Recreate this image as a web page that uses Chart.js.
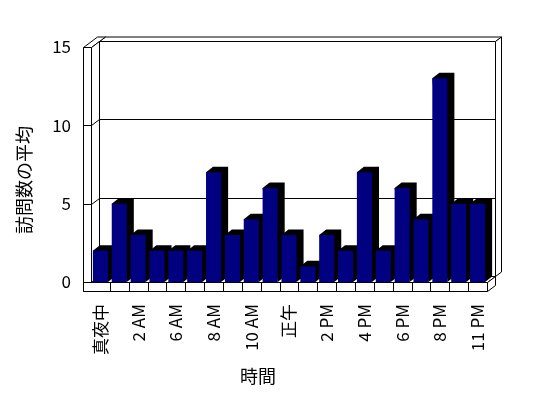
<!DOCTYPE html>
<html>
<head>
<meta charset="utf-8">
<script src="https://cdn.jsdelivr.net/npm/chart.js@4"></script>
<style>
  html, body { margin: 0; padding: 0; background: #fff; }
  canvas { display: block; }
</style>
</head>
<body>
<canvas id="c" width="548" height="398"></canvas>
<script>
const hours = ['真夜中', '1 AM', '2 AM', '5 AM', '6 AM', '7 AM', '8 AM', '9 AM', '10 AM', '11 AM', '正午',
  '1 PM', '2 PM', '3 PM', '4 PM', '5 PM', '6 PM', '7 PM', '8 PM', '9 PM', '11 PM']
const visits = [2, 5, 3, 2, 2, 2, 7, 3, 4, 6, 3, 1, 3, 2, 7, 2, 6, 4, 13, 5, 5]
const yTicks = [0, 5, 10, 15]

const FONT = "'Noto Sans CJK JP', 'Noto Sans', sans-serif"
const DX = 8, DY = -6        // depth of the box
const BDX = 7, BDY = -5.5    // depth of each column

function poly(ctx, pts, fill) {
  ctx.beginPath()
  ctx.moveTo(pts[0][0], pts[0][1])
  for (let i = 1; i < pts.length; i++) ctx.lineTo(pts[i][0], pts[i][1])
  ctx.closePath()
  if (fill) { ctx.fillStyle = fill; ctx.fill() }
  ctx.stroke()
}

// walls, floor, grid and the dark sides of the columns
const box3d = {
  id: 'box3d',
  beforeDatasetsDraw(chart) {
    const { ctx, chartArea: a, scales } = chart
    const ys = scales.y
    const L = a.left + 0.5, R = a.right + 0.5, T = a.top + 0.5, B = a.bottom + 0.5
    const W = 8, FH = 9
    ctx.save()
    ctx.strokeStyle = '#000'
    ctx.lineWidth = 1
    // back wall slab (front face at depth 1, back at 1.75)
    poly(ctx, [[L + DX, T + DY], [R + DX, T + DY], [R + DX, B + DY], [L + DX, B + DY]], '#fff')
    poly(ctx, [[L + DX, T + DY], [R + DX, T + DY], [R + DX * 1.75, T + DY * 1.75], [L + DX * 1.75, T + DY * 1.75]], '#fff')
    poly(ctx, [[R + DX, T + DY], [R + DX * 1.75, T + DY * 1.75], [R + DX * 1.75, B + DY * 1.75], [R + DX, B + DY]], '#fff')
    // left wall slab
    poly(ctx, [[L - W, T], [L, T], [L + DX * 1.75, T + DY * 1.75], [L - W + DX * 1.75, T + DY * 1.75]], '#fff')
    poly(ctx, [[L - W, T], [L, T], [L, B + FH], [L - W, B + FH]], '#fff')
    poly(ctx, [[L, T], [L + DX, T + DY], [L + DX, B + DY], [L, B]], '#fff')
    // floor slab
    poly(ctx, [[L, B], [R, B], [R + DX, B + DY], [L + DX, B + DY]], '#fff')
    poly(ctx, [[L - W, B], [R, B], [R, B + FH], [L - W, B + FH]], '#fff')
    poly(ctx, [[R, B], [R + DX, B + DY], [R + DX, B + DY + FH], [R, B + FH]], '#fff')
    const pitch = (a.right - a.left) / hours.length
    ctx.beginPath()
    for (let i = 1; i < hours.length; i++) {
      const x = Math.round(a.left + i * pitch) + 0.5
      ctx.moveTo(x, B); ctx.lineTo(x, B + FH)
    }
    ctx.stroke()
    // grid lines on the back and left walls
    ctx.beginPath()
    yTicks.slice(1, -1).forEach(v => {
      const y = Math.round(ys.getPixelForValue(v)) + 0.5
      ctx.moveTo(L - W, y); ctx.lineTo(L, y)
      ctx.lineTo(L + DX, y + DY); ctx.lineTo(R + DX, y + DY)
    })
    ctx.stroke()
    // column sides and tops
    ctx.fillStyle = '#000'
    chart.getDatasetMeta(0).data.forEach(bar => {
      const l = bar.x - bar.width / 2, r = bar.x + bar.width / 2
      ctx.beginPath()
      ctx.moveTo(l, bar.y)
      ctx.lineTo(l + BDX, bar.y + BDY)
      ctx.lineTo(r + BDX, bar.y + BDY)
      ctx.lineTo(r + BDX, bar.base + BDY)
      ctx.lineTo(r, bar.base)
      ctx.closePath()
      ctx.fill()
    })
    ctx.restore()
  },
  afterDraw(chart) {
    const { ctx } = chart
    ctx.save()
    ctx.fillStyle = '#000'
    ctx.font = '18px ' + FONT
    ctx.textAlign = 'center'
    ctx.textBaseline = 'middle'
    ctx.fillText('時間', 258, 376)
    ctx.translate(24, 180)
    ctx.rotate(-Math.PI / 2)
    ctx.fillText('訪問数の平均', 0, 0)
    ctx.restore()
  }
}

new Chart(document.getElementById('c').getContext('2d'), {
  type: 'bar',
  data: {
    labels: hours,
    datasets: [{
      data: visits,
      backgroundColor: '#000080',
      borderWidth: 0,
      barPercentage: 0.8,
      categoryPercentage: 1,
    }]
  },
  options: {
    responsive: false,
    animation: false,
    layout: { padding: { top: 47, right: 61, left: 0, bottom: 0 } },
    plugins: { legend: { display: false }, tooltip: { enabled: false } },
    scales: {
      x: {
        grid: { display: false, drawTicks: false },
        border: { display: false },
        ticks: {
          autoSkip: false, minRotation: 90, maxRotation: 90, padding: 22,
          color: '#000', font: { family: FONT, size: 17 },
          callback: (v, i) => i % 2 === 0 ? hours[i] : ''
        },
        afterFit(s) { s.height = 116 }
      },
      y: {
        min: 0, max: 15,
        grid: { display: false, drawTicks: false },
        border: { display: false },
        ticks: { stepSize: 5, padding: 20, color: '#000', font: { family: FONT, size: 17 } },
        afterFit(s) { s.width = 91 }
      }
    }
  },
  plugins: [box3d]
})
</script>
</body>
</html>
